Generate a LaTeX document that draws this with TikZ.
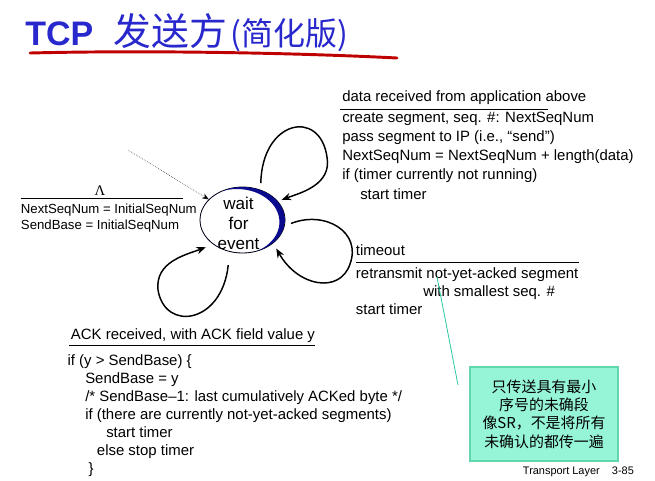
\documentclass[tikz,border=0pt]{standalone}
\usepackage{fontspec}
\setmainfont{Liberation Sans}
\newfontfamily\cjk{Noto Sans CJK SC}
\newfontfamily\greekserif{Liberation Serif}
\usetikzlibrary{arrows.meta,shapes.geometric}
\definecolor{titleblue}{RGB}{40,40,205}
\definecolor{crescent}{RGB}{10,10,140}
\definecolor{notefill}{RGB}{150,245,215}
\definecolor{noteline}{RGB}{95,215,170}
\definecolor{pointer}{RGB}{40,200,160}
\begin{document}
\begin{tikzpicture}[x=0.75pt,y=-0.75pt,
  evt/.style={anchor=base west,inner sep=0pt,font=\fontsize{11.2}{13}\selectfont},
  ini/.style={anchor=base west,inner sep=0pt,font=\fontsize{9.9}{12}\selectfont},
  ack/.style={anchor=base west,inner sep=0pt,font=\fontsize{11.2}{13}\selectfont},
  selfloop/.style={line width=1.1pt,-{Stealth[length=7pt,width=5.5pt]}}]
  \useasboundingbox (0,0) rectangle (655,480);

  % title
  \node[anchor=base west,inner sep=0pt,text=titleblue] (title) at (25,45)
    {\fontsize{25.5}{30}\selectfont\bfseries TCP\hspace{15pt}%
     \cjk\mdseries\fontsize{28.4}{32}\selectfont 发送方\hspace{3pt}\fontsize{24}{28}\selectfont (简化版)};
  \draw[line width=2.2pt,red!75!black,line cap=round] (30,53) .. controls (150,50) and (300,53) .. (397,58);

  % state
  \node[ellipse,draw,line width=0.6pt,minimum width=63.75pt,minimum height=49.5pt,inner sep=0pt] (wait) at (242.5,220) {};
  \begin{scope}
    \clip (wait.center) ellipse [x radius=31.9pt,y radius=24.75pt];
    \fill[crescent,even odd rule] (wait.center) ellipse [x radius=31.9pt,y radius=24.75pt]
      ([shift={(-5.6,2)}]wait.center) ellipse [x radius=31.9pt,y radius=24.75pt];
  \end{scope}
  \node[align=center,inner sep=0pt,font=\fontsize{12.8}{15}\selectfont] (waitlbl) at (238.5,223) {wait\\for\\event};

  % initial
  \coordinate (init) at (128,150);
  \draw[densely dotted,-{Stealth[length=5pt,width=4pt]}] (init) -- (wait);
  \node[anchor=base,inner sep=0pt,font=\greekserif\fontsize{11}{13}\selectfont] (lam) at (100,195.5) {Λ};
  \draw[line width=0.75pt] (20.7,198.3) -- (183,198.3);
  \node[ini] (ini1) at (20.7,213.3) {NextSeqNum = InitialSeqNum};
  \node[ini] (ini2) at (20.7,229) {SendBase = InitialSeqNum};

  % loops
  \draw[selfloop,shorten <=5pt,shorten >=3pt] (wait.59) .. controls (262,120) and (320,108) .. (327,157)
    .. controls (332,185) and (300,193) .. (wait.28);
  \draw[selfloop,shorten <=5pt,shorten >=4.5pt] (wait.-8) .. controls (325,210) and (362,232) .. (350,264)
    .. controls (340,294) and (298,287) .. (wait.-37);
  \draw[selfloop,shorten <=10pt,shorten >=6pt] (wait.-112) .. controls (222,324) and (165,332) .. (158,290)
    .. controls (155,262) and (185,255) .. (wait.-140);

  % data from application
  \node[evt] (dat0) at (342,101) {data received from application above};
  \draw[line width=0.75pt] (340,109) -- (548,109);
  \node[evt] (dat1) at (342,122.5) {create segment, seq. \#: NextSeqNum};
  \node[evt] (dat2) at (342,141.5) {pass segment to IP (i.e., “send”)};
  \node[evt] (dat3) at (342,160.7) {NextSeqNum = NextSeqNum + length(data)};
  \node[evt] (dat4) at (342,179.8) {if (timer currently not running)};
  \node[evt] (dat5) at (360,199) {start timer};

  % timeout
  \node[evt] (tmo0) at (355.7,255) {timeout};
  \draw[line width=0.75pt] (355.7,262.3) -- (579,262.3);
  \node[evt] (tmo1) at (355.7,278.3) {retransmit not-yet-acked segment};
  \node[evt] (tmo2) at (423,296) {with smallest seq. \#};
  \node[evt] (tmo3) at (355.7,314) {start timer};

  % ack received
  \node[evt] (ack0) at (70.7,339) {ACK received, with ACK field value y};
  \draw[line width=0.75pt] (69,345) -- (315,345);
  \node[ack] (ack1) at (67.3,365.7) {if (y > SendBase) \{};
  \node[ack] (ack2) at (85,383.3) {SendBase = y};
  \node[ack] (ack3) at (85,401.7) {/* SendBase–1: last cumulatively ACKed byte */};
  \node[ack] (ack4) at (85,419) {if (there are currently not-yet-acked segments)};
  \node[ack] (ack5) at (106,437.3) {start timer};
  \node[ack] (ack6) at (96.7,455) {else stop timer};
  \node[ack] (ack7) at (88.3,473.3) {\}};

  % note
  \coordinate (ptrA) at (437,277);
  \coordinate (ptrB) at (458,385);
  \draw[pointer,line width=0.6pt] (ptrA) -- (ptrB);
  \node[draw=noteline,fill=notefill,line width=1.2pt,minimum width=111pt,minimum height=70.5pt,
    align=center,font=\cjk\fontsize{11.2}{13.7}\selectfont] (note) at (544,414)
    {只传送具有最小\\序号的未确段\\像SR，不是将所有\\未确认的都传一遍};

  \node[anchor=base west,inner sep=0pt,font=\fontsize{8.2}{10}\selectfont] (footer) at (522.7,474) {Transport Layer};
  \node[anchor=base west,inner sep=0pt,font=\fontsize{8.2}{10}\selectfont] (page) at (611.7,474) {3-85};
\end{tikzpicture}
\end{document}
